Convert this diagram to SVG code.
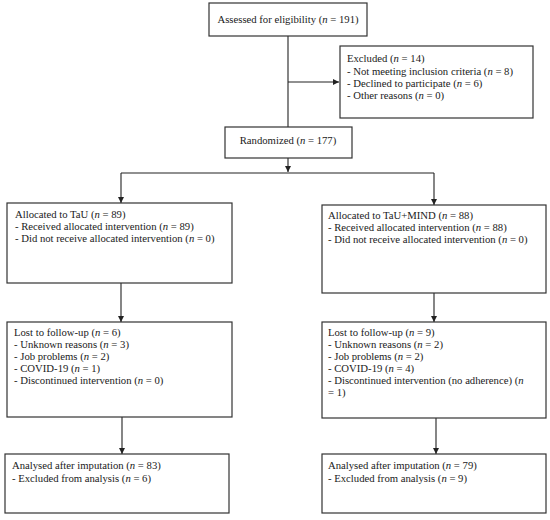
<svg xmlns="http://www.w3.org/2000/svg" width="550" height="520" viewBox="0 0 550 520">
<style>
.box{fill:#fff;stroke:#333;stroke-width:1.2}
.ln{stroke:#222;stroke-width:1.1;fill:none}
text{font-family:"Liberation Serif","Times New Roman",serif;font-size:10.7px;fill:#1a1a1a}
.i{font-style:italic}
.c{text-anchor:middle}
</style>
<defs>
<marker id="ah" viewBox="0 0 6 6" refX="6" refY="3" markerWidth="6" markerHeight="6" markerUnits="userSpaceOnUse" orient="auto">
<path d="M0,0 L6,3 L0,6 z" fill="#222"/>
</marker>
</defs>
<rect width="550" height="520" fill="#fff"/>
<g id="connectors">
<path class="ln" d="M288,36 V127"/>
<path class="ln" d="M288,82 H339" marker-end="url(#ah)"/>
<path class="ln" d="M288,158 V172" marker-end="url(#ah)"/>
<path class="ln" d="M121,173 H434"/>
<path class="ln" d="M121,173 V203" marker-end="url(#ah)"/>
<path class="ln" d="M434,173 V205" marker-end="url(#ah)"/>
<path class="ln" d="M121,283 V322" marker-end="url(#ah)"/>
<path class="ln" d="M434,293 V322" marker-end="url(#ah)"/>
<path class="ln" d="M122,417 V454" marker-end="url(#ah)"/>
<path class="ln" d="M436,418 V454" marker-end="url(#ah)"/>
</g>
<g id="assessed">
<rect class="box" x="209" y="3" width="158" height="33"/>
<text class="c" x="288" y="23">Assessed for eligibility (<tspan class="i">n</tspan> = 191)</text>
</g>
<g id="excluded">
<rect class="box" x="340" y="46" width="193" height="72"/>
<text x="347" y="62">Excluded  (<tspan class="i">n</tspan> = 14)</text>
<text x="347" y="75">- Not meeting inclusion criteria (<tspan class="i">n</tspan> = 8)</text>
<text x="347" y="87">- Declined  to participate (<tspan class="i">n</tspan> = 6)</text>
<text x="347" y="99">- Other reasons (<tspan class="i">n</tspan> = 0)</text>
</g>
<g id="randomized">
<rect class="box" x="225" y="127" width="127" height="31"/>
<text class="c" x="288" y="144">Randomized (<tspan class="i">n</tspan> = 177)</text>
</g>
<g id="alloc-tau">
<rect class="box" x="7" y="203" width="225" height="80"/>
<text x="15" y="218">Allocated to TaU (<tspan class="i">n</tspan> = 89)</text>
<text x="15" y="230">- Received allocated intervention (<tspan class="i">n</tspan> = 89)</text>
<text x="15" y="242">- Did not receive allocated intervention (<tspan class="i">n</tspan> = 0)</text>
</g>
<g id="alloc-mind">
<rect class="box" x="322" y="205" width="224" height="88"/>
<text x="328" y="219">Allocated to TaU+MIND  (<tspan class="i">n</tspan> = 88)</text>
<text x="328" y="231">- Received allocated intervention (<tspan class="i">n</tspan> = 88)</text>
<text x="328" y="243">- Did not receive allocated intervention (<tspan class="i">n</tspan> = 0)</text>
</g>
<g id="lost-tau">
<rect class="box" x="7" y="322" width="225" height="95"/>
<text x="14" y="336">Lost to follow-up (<tspan class="i">n</tspan> = 6)</text>
<text x="14" y="348">- Unknown reasons (<tspan class="i">n</tspan> = 3)</text>
<text x="14" y="360">- Job problems (<tspan class="i">n</tspan> = 2)</text>
<text x="14" y="372">- COVID-19 (<tspan class="i">n</tspan> = 1)</text>
<text x="14" y="384">- Discontinued intervention (<tspan class="i">n</tspan> = 0)</text>
</g>
<g id="lost-mind">
<rect class="box" x="322" y="322" width="224" height="96"/>
<text x="328" y="336">Lost to follow-up (<tspan class="i">n</tspan> = 9)</text>
<text x="328" y="348">- Unknown reasons (<tspan class="i">n</tspan> = 2)</text>
<text x="328" y="360">- Job problems (<tspan class="i">n</tspan> = 2)</text>
<text x="328" y="372">- COVID-19 (<tspan class="i">n</tspan> = 4)</text>
<text x="328" y="384">- Discontinued intervention (no adherence) (<tspan class="i">n</tspan></text>
<text x="328" y="396">= 1)</text>
</g>
<g id="analysed-tau">
<rect class="box" x="5" y="454" width="224" height="59"/>
<text x="12" y="469">Analysed after imputation (<tspan class="i">n</tspan> = 83)</text>
<text x="12" y="482">- Excluded  from analysis (<tspan class="i">n</tspan> = 6)</text>
</g>
<g id="analysed-mind">
<rect class="box" x="322" y="454" width="224" height="59"/>
<text x="328" y="469">Analysed after imputation (<tspan class="i">n</tspan> = 79)</text>
<text x="328" y="482">- Excluded  from analysis (<tspan class="i">n</tspan> = 9)</text>
</g>
</svg>
